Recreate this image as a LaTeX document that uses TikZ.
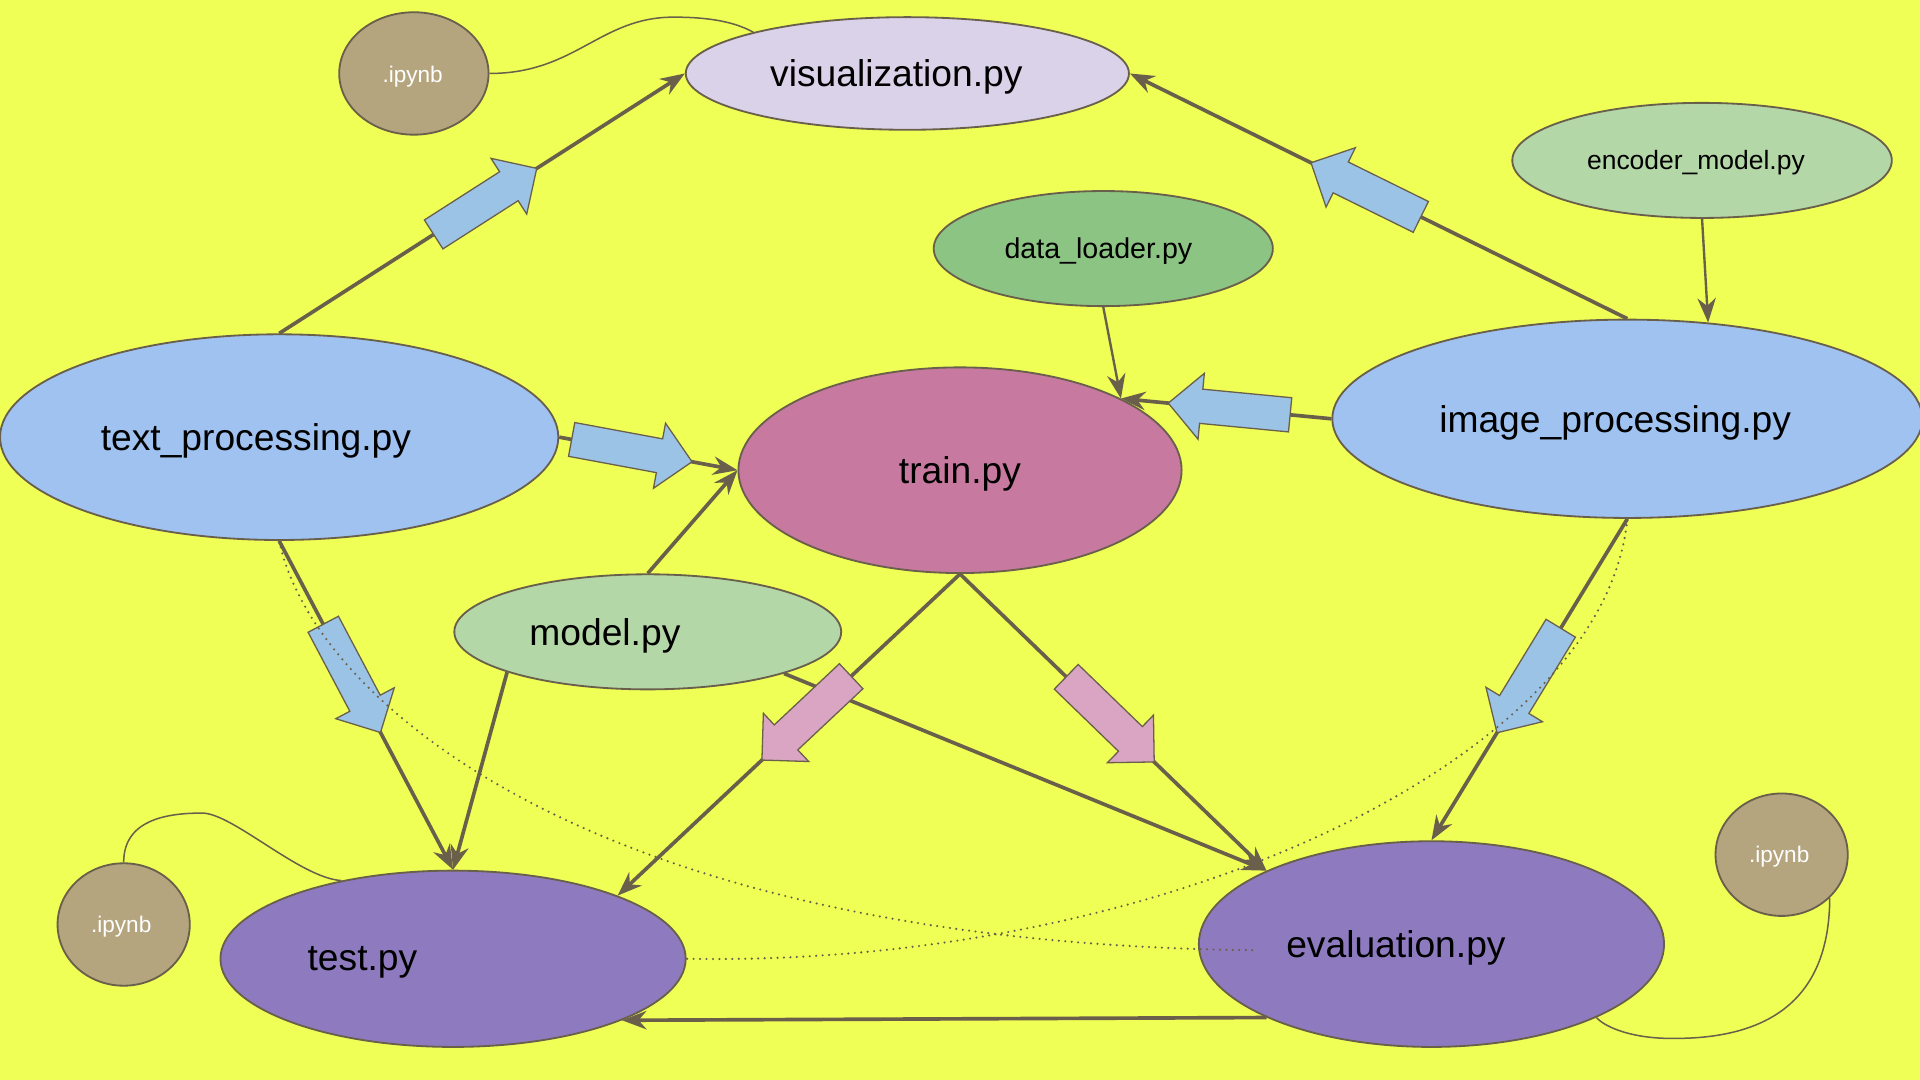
\documentclass[tikz,border=0pt]{standalone}
\usepackage{fontspec}
\setmainfont{Liberation Sans}
\usetikzlibrary{shapes.geometric,shapes.arrows,arrows.meta}

\definecolor{bgyellow}{HTML}{EFFF55}
\definecolor{linegray}{HTML}{6A5F4B}
\definecolor{visfill}{HTML}{D9D2E9}
\definecolor{nbfill}{HTML}{B4A57F}
\definecolor{procfill}{HTML}{9FC2F1}
\definecolor{trainfill}{HTML}{C7799F}
\definecolor{loaderfill}{HTML}{8CC483}
\definecolor{modelfill}{HTML}{B4D7A8}
\definecolor{runfill}{HTML}{8E7BBF}
\definecolor{bluearrow}{HTML}{9BC3E6}
\definecolor{pinkarrow}{HTML}{D9A5C2}

\begin{document}
\begin{tikzpicture}[x=0.02cm, y=-0.02cm, >={Stealth[length=0.4cm,width=0.3cm,inset=0.13cm]},
filenode/.style={ellipse, draw=linegray, line width=0.85pt, inner sep=0pt},
bigtxt/.style={font=\fontsize{17.3}{20}\selectfont},
midtxt/.style={font=\fontsize{13.3}{16}\selectfont},
nbtxt/.style={text=white, font=\fontsize{10.5}{13}\selectfont},
conn/.style={->, draw=linegray, line width=1.7pt},
thinconn/.style={->, draw=linegray, line width=1.1pt},
nbline/.style={draw=linegray, line width=0.7pt},
dotline/.style={draw=linegray, line width=1.1pt, line cap=round, dash pattern=on 0pt off 3pt},
fatarrow/.style={single arrow, draw=linegray, line width=0.6pt, inner sep=0pt, inner ysep=0.27cm,
  minimum height=2cm, single arrow head extend=0.26cm, single arrow tip angle=90,
  single arrow head indent=0pt, sloped, allow upside down}]

  \useasboundingbox (0,0) rectangle (1568,882);
  \fill[bgyellow] (0,0) rectangle (1568,882);

  % files
  \node[filenode, fill=visfill, minimum width=7.24cm, minimum height=1.84cm] (vis) at (741,60) {};
  \node[filenode, fill=nbfill, minimum width=2.44cm, minimum height=2cm] (nbvis) at (338,60) {};
  \node[filenode, fill=procfill, minimum width=9.12cm, minimum height=3.36cm] (textproc) at (228,357) {};
  \node[filenode, fill=trainfill, minimum width=7.24cm, minimum height=3.36cm] (train) at (784,384) {};
  \node[filenode, fill=loaderfill, minimum width=5.54cm, minimum height=1.88cm] (loader) at (901,203) {};
  \node[filenode, fill=modelfill, minimum width=6.2cm, minimum height=1.88cm] (encoder) at (1390,131) {};
  \node[filenode, fill=procfill, minimum width=9.64cm, minimum height=3.24cm] (imgproc) at (1329,342) {};
  \node[filenode, fill=modelfill, minimum width=6.32cm, minimum height=1.88cm] (model) at (529,516) {};
  \node[filenode, fill=runfill, minimum width=7.6cm, minimum height=2.88cm] (test) at (370,783) {};
  \node[filenode, fill=runfill, minimum width=7.6cm, minimum height=3.36cm] (eval) at (1169,771) {};
  \node[filenode, fill=nbfill, minimum width=2.16cm, minimum height=2cm] (nbtest) at (101,755) {};
  \node[filenode, fill=nbfill, minimum width=2.16cm, minimum height=2cm] (nbeval) at (1455,698) {};

  % labels
  \node[bigtxt] (vis-t) at (732,63) {visualization.py};
  \node[nbtxt] (nbvis-t) at (337,63) {.ipynb};
  \node[bigtxt] (textproc-t) at (209,360) {text\_processing.py};
  \node[bigtxt] (train-t) at (784,387) {train.py};
  \node[midtxt] (loader-t) at (897,205) {data\_loader.py};
  \node[font=\fontsize{12.3}{15}\selectfont] (encoder-t) at (1385,133) {encoder\_model.py};
  \node[bigtxt] (imgproc-t) at (1319,345) {image\_processing.py};
  \node[bigtxt] (model-t) at (494,519) {model.py};
  \node[bigtxt] (test-t) at (296,786) {test.py};
  \node[bigtxt] (eval-t) at (1140,774) {evaluation.py};
  \node[nbtxt] (nbtest-t) at (99,757) {.ipynb};
  \node[nbtxt] (nbeval-t) at (1453,700) {.ipynb};

  % plain links
  \draw[conn] (model.-17) -- (eval.156);
  \draw[conn] (model.196) -- (test.north);
  \draw[conn] (model.north) -- (train.west);
  \draw[thinconn] (loader.south) -- (train.24);
  \draw[thinconn] (encoder.south) -- (imgproc.50);
  \draw[conn] (eval.204) -- (test.-20);

  % links with block arrows
  \draw[conn] (textproc.north) -- node[fatarrow, fill=bluearrow, pos=0.49] (ba-vis1) {} (vis.west);
  \draw[conn] (textproc.east) -- node[fatarrow, fill=bluearrow, pos=0.36] (ba-train1) {} (train.west);
  \draw[conn] (textproc.south) -- node[fatarrow, fill=bluearrow, pos=0.395] (ba-test) {} (test.north);
  \draw[conn] (imgproc.north) -- node[fatarrow, fill=bluearrow, pos=0.51] (ba-vis2) {} (vis.east);
  \draw[conn] (imgproc.west) -- node[fatarrow, fill=bluearrow, pos=0.445] (ba-train2) {} (train.24);
  \draw[conn] (imgproc.south) -- node[fatarrow, fill=bluearrow, pos=0.48] (ba-eval) {} (eval.north);
  \draw[conn] (train.south) -- node[fatarrow, fill=pinkarrow, pos=0.43] (pa-test) {} (test.21);
  \draw[conn] (train.south) -- node[fatarrow, fill=pinkarrow, pos=0.47] (pa-eval) {} (eval.156);

  % notebooks
  \draw[nbline] (nbvis.east) .. controls (470,60) and (490,14) .. (550,14)
    .. controls (580,14) and (600,18) .. (vis.165);
  \draw[nbline] (nbtest.north) .. controls (101,670) and (135,664) .. (165,664)
    .. controls (190,664) and (245,717) .. (test.145);
  \draw[nbline] (nbeval.-42) .. controls (1494,820) and (1440,849) .. (1364,848)
    .. controls (1335,848) and (1312,840) .. (eval.-24);

  % dotted
  \coordinate (evaldot) at (1023,776);
  \draw[dotline] (textproc.south) .. controls (255,570) and (480,770) .. (evaldot);
  \draw[dotline] (imgproc.south) .. controls (1310,620) and (950,790) .. (test.east);
\end{tikzpicture}
\end{document}
